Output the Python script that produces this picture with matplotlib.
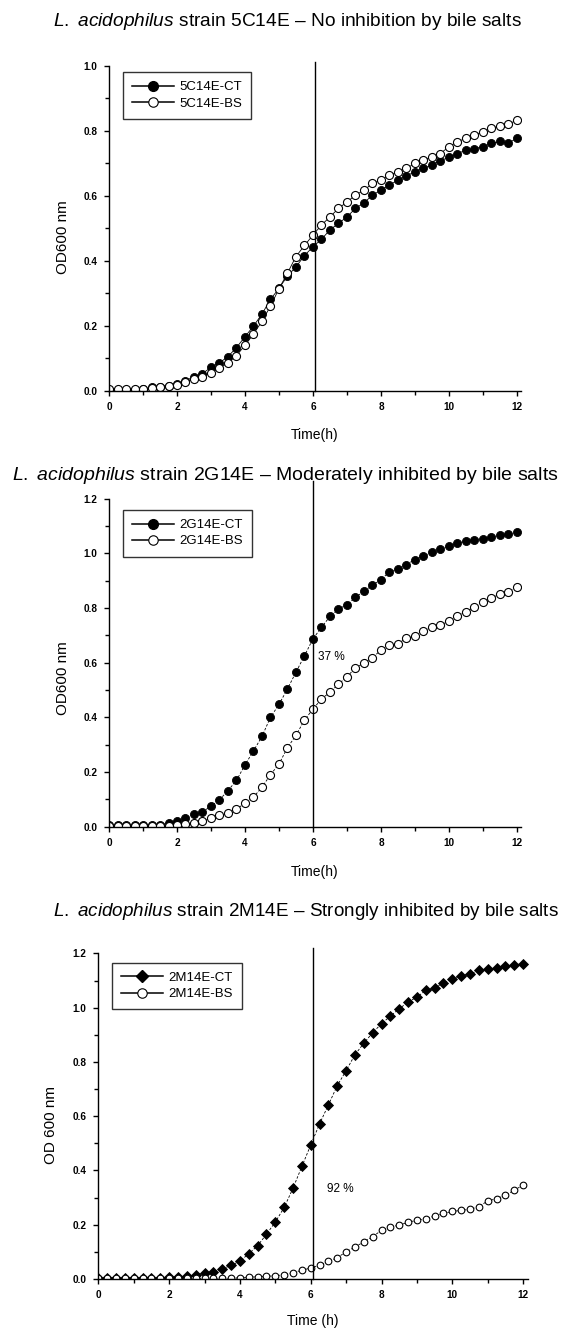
import matplotlib.pyplot as plt
import matplotlib.ticker as ticker
from matplotlib.lines import Line2D

plt.rcParams["font.family"] = ["Liberation Sans", "DejaVu Sans"]
plt.rcParams["mathtext.fontset"] = "custom"
plt.rcParams["mathtext.it"] = "Liberation Sans:italic"
plt.rcParams["mathtext.rm"] = "Liberation Sans"

hours = [0, 0.25, 0.5, 0.75, 1, 1.25, 1.5, 1.75, 2, 2.25, 2.5, 2.75,
         3, 3.25, 3.5, 3.75, 4, 4.25, 4.5, 4.75, 5, 5.25, 5.5, 5.75,
         6, 6.25, 6.5, 6.75, 7, 7.25, 7.5, 7.75, 8, 8.25, 8.5, 8.75,
         9, 9.25, 9.5, 9.75, 10, 10.25, 10.5, 10.75, 11, 11.25, 11.5, 11.75, 12]

# strain 5C14E
ct_5c14e = [0.003, 0.003, 0.003, 0.003, 0.004, 0.010, 0.013, 0.016, 0.020, 0.031, 0.043, 0.053,
            0.072, 0.086, 0.105, 0.133, 0.166, 0.199, 0.236, 0.281, 0.315, 0.353, 0.381, 0.416,
            0.443, 0.466, 0.495, 0.515, 0.535, 0.561, 0.578, 0.602, 0.617, 0.633, 0.648, 0.661,
            0.674, 0.684, 0.695, 0.708, 0.718, 0.730, 0.740, 0.745, 0.751, 0.761, 0.767, 0.762, 0.777]
bs_5c14e = [0.005, 0.005, 0.005, 0.005, 0.005, 0.008, 0.012, 0.016, 0.017, 0.028, 0.035, 0.043,
            0.055, 0.069, 0.086, 0.108, 0.140, 0.174, 0.214, 0.260, 0.314, 0.362, 0.413, 0.447,
            0.479, 0.510, 0.535, 0.561, 0.581, 0.602, 0.617, 0.638, 0.648, 0.663, 0.674, 0.684,
            0.700, 0.710, 0.720, 0.730, 0.751, 0.766, 0.777, 0.787, 0.797, 0.808, 0.815, 0.820, 0.833]

# strain 2G14E
ct_2g14e = [0.005, 0.005, 0.005, 0.005, 0.005, 0.005, 0.005, 0.015, 0.020, 0.030, 0.045, 0.054,
            0.075, 0.098, 0.132, 0.169, 0.226, 0.277, 0.330, 0.400, 0.447, 0.504, 0.565, 0.625,
            0.687, 0.729, 0.769, 0.796, 0.812, 0.839, 0.861, 0.883, 0.904, 0.932, 0.944, 0.959,
            0.977, 0.989, 1.005, 1.017, 1.026, 1.038, 1.044, 1.050, 1.054, 1.060, 1.066, 1.072, 1.078]
bs_2g14e = [0.003, 0.003, 0.003, 0.003, 0.003, 0.003, 0.003, 0.003, 0.006, 0.008, 0.012, 0.022,
            0.031, 0.042, 0.051, 0.065, 0.085, 0.108, 0.144, 0.190, 0.229, 0.289, 0.334, 0.390,
            0.430, 0.467, 0.492, 0.521, 0.549, 0.580, 0.599, 0.617, 0.647, 0.666, 0.669, 0.690,
            0.696, 0.715, 0.730, 0.736, 0.753, 0.769, 0.787, 0.802, 0.821, 0.836, 0.851, 0.860, 0.875]

# strain 2M14E
ct_2m14e = [0.002, 0.003, 0.003, 0.003, 0.003, 0.003, 0.003, 0.005, 0.006, 0.007, 0.010, 0.015,
            0.023, 0.027, 0.038, 0.050, 0.066, 0.093, 0.123, 0.165, 0.210, 0.264, 0.335, 0.415,
            0.494, 0.572, 0.642, 0.713, 0.768, 0.827, 0.869, 0.908, 0.941, 0.969, 0.996, 1.021,
            1.039, 1.064, 1.072, 1.091, 1.107, 1.118, 1.124, 1.138, 1.142, 1.147, 1.152, 1.158, 1.162]
bs_2m14e = [0.002, 0.002, 0.002, 0.002, 0.002, 0.002, 0.002, 0.002, 0.002, 0.002, 0.002, 0.002,
            0.002, 0.002, 0.002, 0.002, 0.005, 0.007, 0.008, 0.010, 0.012, 0.016, 0.024, 0.032,
            0.041, 0.051, 0.065, 0.079, 0.100, 0.118, 0.137, 0.156, 0.180, 0.193, 0.198, 0.210,
            0.216, 0.223, 0.232, 0.242, 0.249, 0.253, 0.257, 0.267, 0.288, 0.296, 0.309, 0.327, 0.347]

titles = [
    r"$\it{L.\ acidophilus}$ strain 5C14E – No inhibition by bile salts",
    r"$\it{L.\ acidophilus}$ strain 2G14E – Moderately inhibited by bile salts",
    r"$\it{L.\ acidophilus}$ strain 2M14E – Strongly inhibited by bile salts",
]
legend_labels = [("5C14E-CT", "5C14E-BS"), ("2G14E-CT", "2G14E-BS"), ("2M14E-CT", "2M14E-BS")]
ylabels = ["OD600 nm", "OD600 nm", "OD 600 nm"]
xlabels = ["Time(h)", "Time(h)", "Time (h)"]
cut_times = [6.05, 6.0, 6.05]
inhibition = ["", "37 %", "92 %"]

fig = plt.figure(figsize=(5.69, 13.29), dpi=100)

rects = [
    [0.1916, 0.706, 0.724, 0.2445],
    [0.1916, 0.378, 0.724, 0.2468],
    [0.1728, 0.0376, 0.7547, 0.245],
]
ylims = [1.0, 1.2, 1.2]
xmaxs = [12.12, 12.12, 12.13]
line_tops = [1.012, 1.265, 1.22]
title_pos = [(287, 22), (285, 476), (306, 912)]
title_sizes = [13.8, 14.0, 13.6]
legend_anchor = [(0.033, 0.981), (0.033, 0.966), (0.031, 0.972)]
ylabel_y = [0.473, 0.453, 0.473]
xlabel_y = [-0.115, -0.116, -0.108]
pct_pos = [None, (6.15, 0.62), (6.45, 0.33)]
ct_series = [ct_5c14e, ct_2g14e, ct_2m14e]
bs_series = [bs_5c14e, bs_2g14e, bs_2m14e]

for i in range(3):
    ax = fig.add_axes(rects[i])
    if i == 0:
        ls = "-"
    else:
        ls = (0, (3, 2))
    ct_marker = "D" if i == 2 else "o"
    ct_ms = 4.8 if i == 2 else 5.8
    bs_ms = 4.8 if i == 2 else 5.8
    ax.plot(hours, ct_series[i], linestyle=ls, color="black", lw=0.6,
            marker=ct_marker, ms=ct_ms, mfc="black", mec="black", mew=0.6)
    ax.plot(hours, bs_series[i], linestyle=ls, color="black", lw=0.6,
            marker="o", ms=bs_ms, mfc="white", mec="black", mew=0.8)

    ax.plot([cut_times[i], cut_times[i]], [0, line_tops[i]], color="black", lw=1.0, clip_on=False)

    ax.set_xlim(0, xmaxs[i])
    ax.set_ylim(0, ylims[i])
    ax.spines["top"].set_visible(False)
    ax.spines["right"].set_visible(False)
    ax.spines["left"].set_linewidth(1.0)
    ax.spines["bottom"].set_linewidth(1.0)
    ax.xaxis.set_major_locator(ticker.MultipleLocator(2))
    ax.xaxis.set_minor_locator(ticker.MultipleLocator(1))
    ax.yaxis.set_major_locator(ticker.MultipleLocator(0.2))
    ax.yaxis.set_minor_locator(ticker.MultipleLocator(0.1))
    ax.yaxis.set_major_formatter(ticker.FormatStrFormatter("%.1f"))
    ax.tick_params(which="major", direction="out", length=3.5, width=1.0, labelsize=7.2)
    ax.tick_params(axis="x", which="major", pad=4.5)
    ax.tick_params(axis="y", which="major", pad=5)
    ax.tick_params(which="minor", direction="out", length=3.0, width=1.0)
    for lab in ax.get_xticklabels() + ax.get_yticklabels():
        lab.set_fontweight("bold")

    ax.set_xlabel(xlabels[i], fontsize=10)
    ax.xaxis.set_label_coords(0.5, xlabel_y[i])
    ax.set_ylabel(ylabels[i], fontsize=11)
    ax.yaxis.set_label_coords(-0.095, ylabel_y[i])

    handles = [
        Line2D([], [], color="black", lw=1.1, marker=ct_marker, ms=ct_ms + 1.2, mfc="black", mec="black"),
        Line2D([], [], color="black", lw=1.1, marker="o", ms=6.8, mfc="white", mec="black", mew=0.8),
    ]
    leg = ax.legend(handles, legend_labels[i], loc="upper left", bbox_to_anchor=legend_anchor[i],
                    borderaxespad=0, fontsize=9.5, frameon=True, fancybox=False,
                    edgecolor="black", handlelength=3.2, handletextpad=0.4,
                    borderpad=0.7, labelspacing=0.3)
    leg.get_frame().set_linewidth(1.0)

    if pct_pos[i] is not None:
        ax.text(pct_pos[i][0], pct_pos[i][1], inhibition[i], fontsize=8.5, va="center", ha="left")

    fig.text(title_pos[i][0] / 569, 1 - title_pos[i][1] / 1329, titles[i],
             fontsize=title_sizes[i], ha="center", va="center")

fig.savefig("out.png", dpi=100)
